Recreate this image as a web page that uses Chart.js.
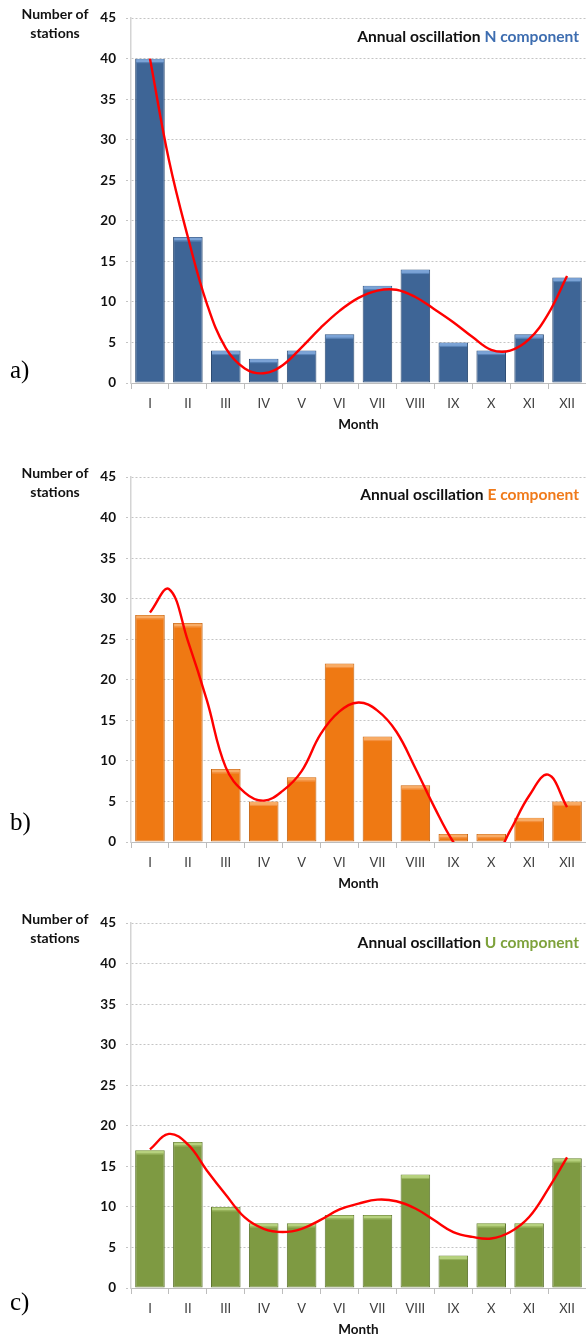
<!DOCTYPE html>
<html>
<head>
<meta charset="utf-8">
<script src="https://cdn.jsdelivr.net/npm/chart.js@4.4.0/dist/chart.umd.min.js"></script>
<style>
  html, body { margin: 0; padding: 0; background: #fff; width: 586px; height: 1338px; overflow: hidden; }
  .wrap { position: relative; width: 586px; height: 1338px; }
  canvas { position: absolute; left: 0; }
  .ylab { position: absolute; left: 8px; width: 94px; text-align: center; font: bold 14px Lato, "Liberation Sans", sans-serif; line-height: 18.5px; color: #111; z-index: 2; }
  .ttl { position: absolute; right: 7px; font: bold 15.6px Lato, "Liberation Sans", sans-serif; line-height: 18px; color: #111; white-space: nowrap; z-index: 2; }
  .pl { position: absolute; left: 10px; font: 25px "Liberation Serif", "DejaVu Serif", serif; line-height: 26px; color: #000; z-index: 2; }
</style>
</head>
<body>
<div class="wrap">
  <div class="ylab" style="top:5px">Number of<br>stations</div>
  <div class="ttl" style="top:27px">Annual oscillation <span style="color:#3d6db0">N component</span></div>
  <div class="pl" style="top:357px">a)</div>
  <canvas id="cA" width="586" height="433" style="top:0px"></canvas>

  <div class="ylab" style="top:464px">Number of<br>stations</div>
  <div class="ttl" style="top:485px">Annual oscillation <span style="color:#f07a1a">E component</span></div>
  <div class="pl" style="top:809px">b)</div>
  <canvas id="cB" width="586" height="433" style="top:459px"></canvas>

  <div class="ylab" style="top:910px">Number of<br>stations</div>
  <div class="ttl" style="top:933px">Annual oscillation <span style="color:#7ea23c">U component</span></div>
  <div class="pl" style="top:1289px">c)</div>
  <canvas id="cC" width="586" height="433" style="top:905px"></canvas>
</div>
<script>
// ---- data ----
const months = ['I','II','III','IV','V','VI','VII','VIII','IX','X','XI','XII'];
const stationsN = [40, 18, 4, 3, 4, 6, 12, 14, 5, 4, 6, 13];
const stationsE = [28, 27, 9, 5, 8, 22, 13, 7, 1, 1, 3, 5];
const stationsU = [17, 18, 10, 8, 8, 9, 9, 14, 4, 8, 8, 16];
// trend curve (at every half month)
const trendX = [1, 1.5, 2, 2.5, 3, 3.5, 4, 4.5, 5, 5.5, 6, 6.5, 7, 7.5, 8, 8.5, 9, 9.5, 10, 10.5, 11, 11.5, 12];
const trendN = [40, 27.5, 18, 9.8, 4.3, 1.8, 1.2, 2.2, 4.4, 6.8, 8.9, 10.5, 11.4, 11.5, 10.6, 9.1, 7.5, 5.7, 4.1, 4.0, 5.4, 8.5, 13.2];
const trendE = [28.3, 31.2, 24.8, 17.5, 9.2, 6.1, 5.1, 6.3, 8.75, 13.3, 16.1, 17.2, 16.2, 13.6, 9.1, 4.3, 0, -3.0, -2.6, 1.4, 5.7, 8.3, 4.3];
const trendU = [17.1, 19.0, 17.7, 14.5, 11.5, 8.7, 7.3, 6.9, 7.3, 8.4, 9.7, 10.4, 10.9, 10.7, 9.8, 8.35, 6.9, 6.3, 6.1, 6.9, 8.75, 12.2, 16.1];
const yTicks = [0, 5, 10, 15, 20, 25, 30, 35, 40, 45];

const capPlugin = {
  id: 'barCap',
  afterDatasetDraw(chart, args) {
    const meta = args.meta;
    if (meta.type !== 'bar') return;
    const ds = chart.data.datasets[args.index];
    const ctx = chart.ctx;
    ctx.save();
    meta.data.forEach(bar => {
      const p = bar.getProps(['x', 'y', 'width', 'base'], true);
      ctx.fillStyle = ds.capColor;
      ctx.fillRect(p.x - p.width / 2 + 1, p.y + 0.5, p.width - 2, 3);
      ctx.fillStyle = ds.capLine;
      ctx.fillRect(p.x - p.width / 2 + 1, p.y + 3.5, p.width - 2, 1);
    });
    ctx.restore();
  }
};

const fam = 'Lato, "Liberation Sans", sans-serif';

function makeChart(id, values, trend, col) {
  const pts = trendX.map((x, i) => ({ x: x, y: trend[i] }));
  return new Chart(document.getElementById(id), {
    type: 'bar',
    data: {
      labels: months,
      datasets: [
        {
          type: 'line', data: pts, xAxisID: 'x2', yAxisID: 'y',
          borderColor: '#ff0000', borderWidth: 2.4, pointRadius: 0,
          tension: 0.4, fill: false, order: 0
        },
        {
          type: 'bar', data: values, xAxisID: 'x', yAxisID: 'y', grouped: false,
          backgroundColor: col.body, borderColor: col.border, borderWidth: 1,
          borderSkipped: false, barPercentage: 0.78, categoryPercentage: 1.0,
          capColor: col.cap, capLine: col.capLine, order: 1
        }
      ]
    },
    options: {
      responsive: false, animation: false, devicePixelRatio: 1,
      layout: { padding: { top: 15, left: 0, right: 0, bottom: 0 } },
      plugins: { legend: { display: false }, tooltip: { enabled: false }, title: { display: false } },
      scales: {
        x: {
          type: 'category', offset: true,
          grid: { display: true, drawOnChartArea: false, drawTicks: true, tickLength: 6, color: '#bdbdbd', offset: true },
          border: { display: true, color: '#bdbdbd', width: 1 },
          ticks: { color: '#404040', font: { family: fam, size: 13 }, padding: 7, maxRotation: 0, autoSkip: false },
          title: { display: true, text: 'Month', color: '#111', font: { family: fam, size: 13.5, weight: 'bold' }, padding: { top: 3, bottom: 0 } },
          afterFit: s => { s.height = 50; }
        },
        x2: { type: 'linear', display: false, min: 0.5, max: 12.5, offset: false, grid: { offset: false } },
        y: {
          min: 0, max: 45,
          afterBuildTicks: s => { s.ticks = yTicks.map(v => ({ value: v })); },
          grid: { color: '#c4c4c4', lineWidth: 1, tickLength: 5, drawTicks: true, tickBorderDash: [2, 2], tickColor: '#c4c4c4' },
          border: { display: true, color: '#d4d4d4', width: 1.5, dash: [2, 2] },
          ticks: { color: '#111', font: { family: fam, size: 13.5, weight: 'bold' }, padding: 10 },
          afterFit: s => { s.width = 131; }
        }
      }
    },
    plugins: [capPlugin]
  });
}

makeChart('cA', stationsN, trendN, { body: '#3e6596', border: '#2d4c74', cap: '#7ba3d6', capLine: '#5a84b8' });
makeChart('cB', stationsE, trendE, { body: '#ef7913', border: '#c2600c', cap: '#f8ac66', capLine: '#f39243' });
makeChart('cC', stationsU, trendU, { body: '#7e9a42', border: '#5f7630', cap: '#b6d17e', capLine: '#98b45d' });
</script>
</body>
</html>
